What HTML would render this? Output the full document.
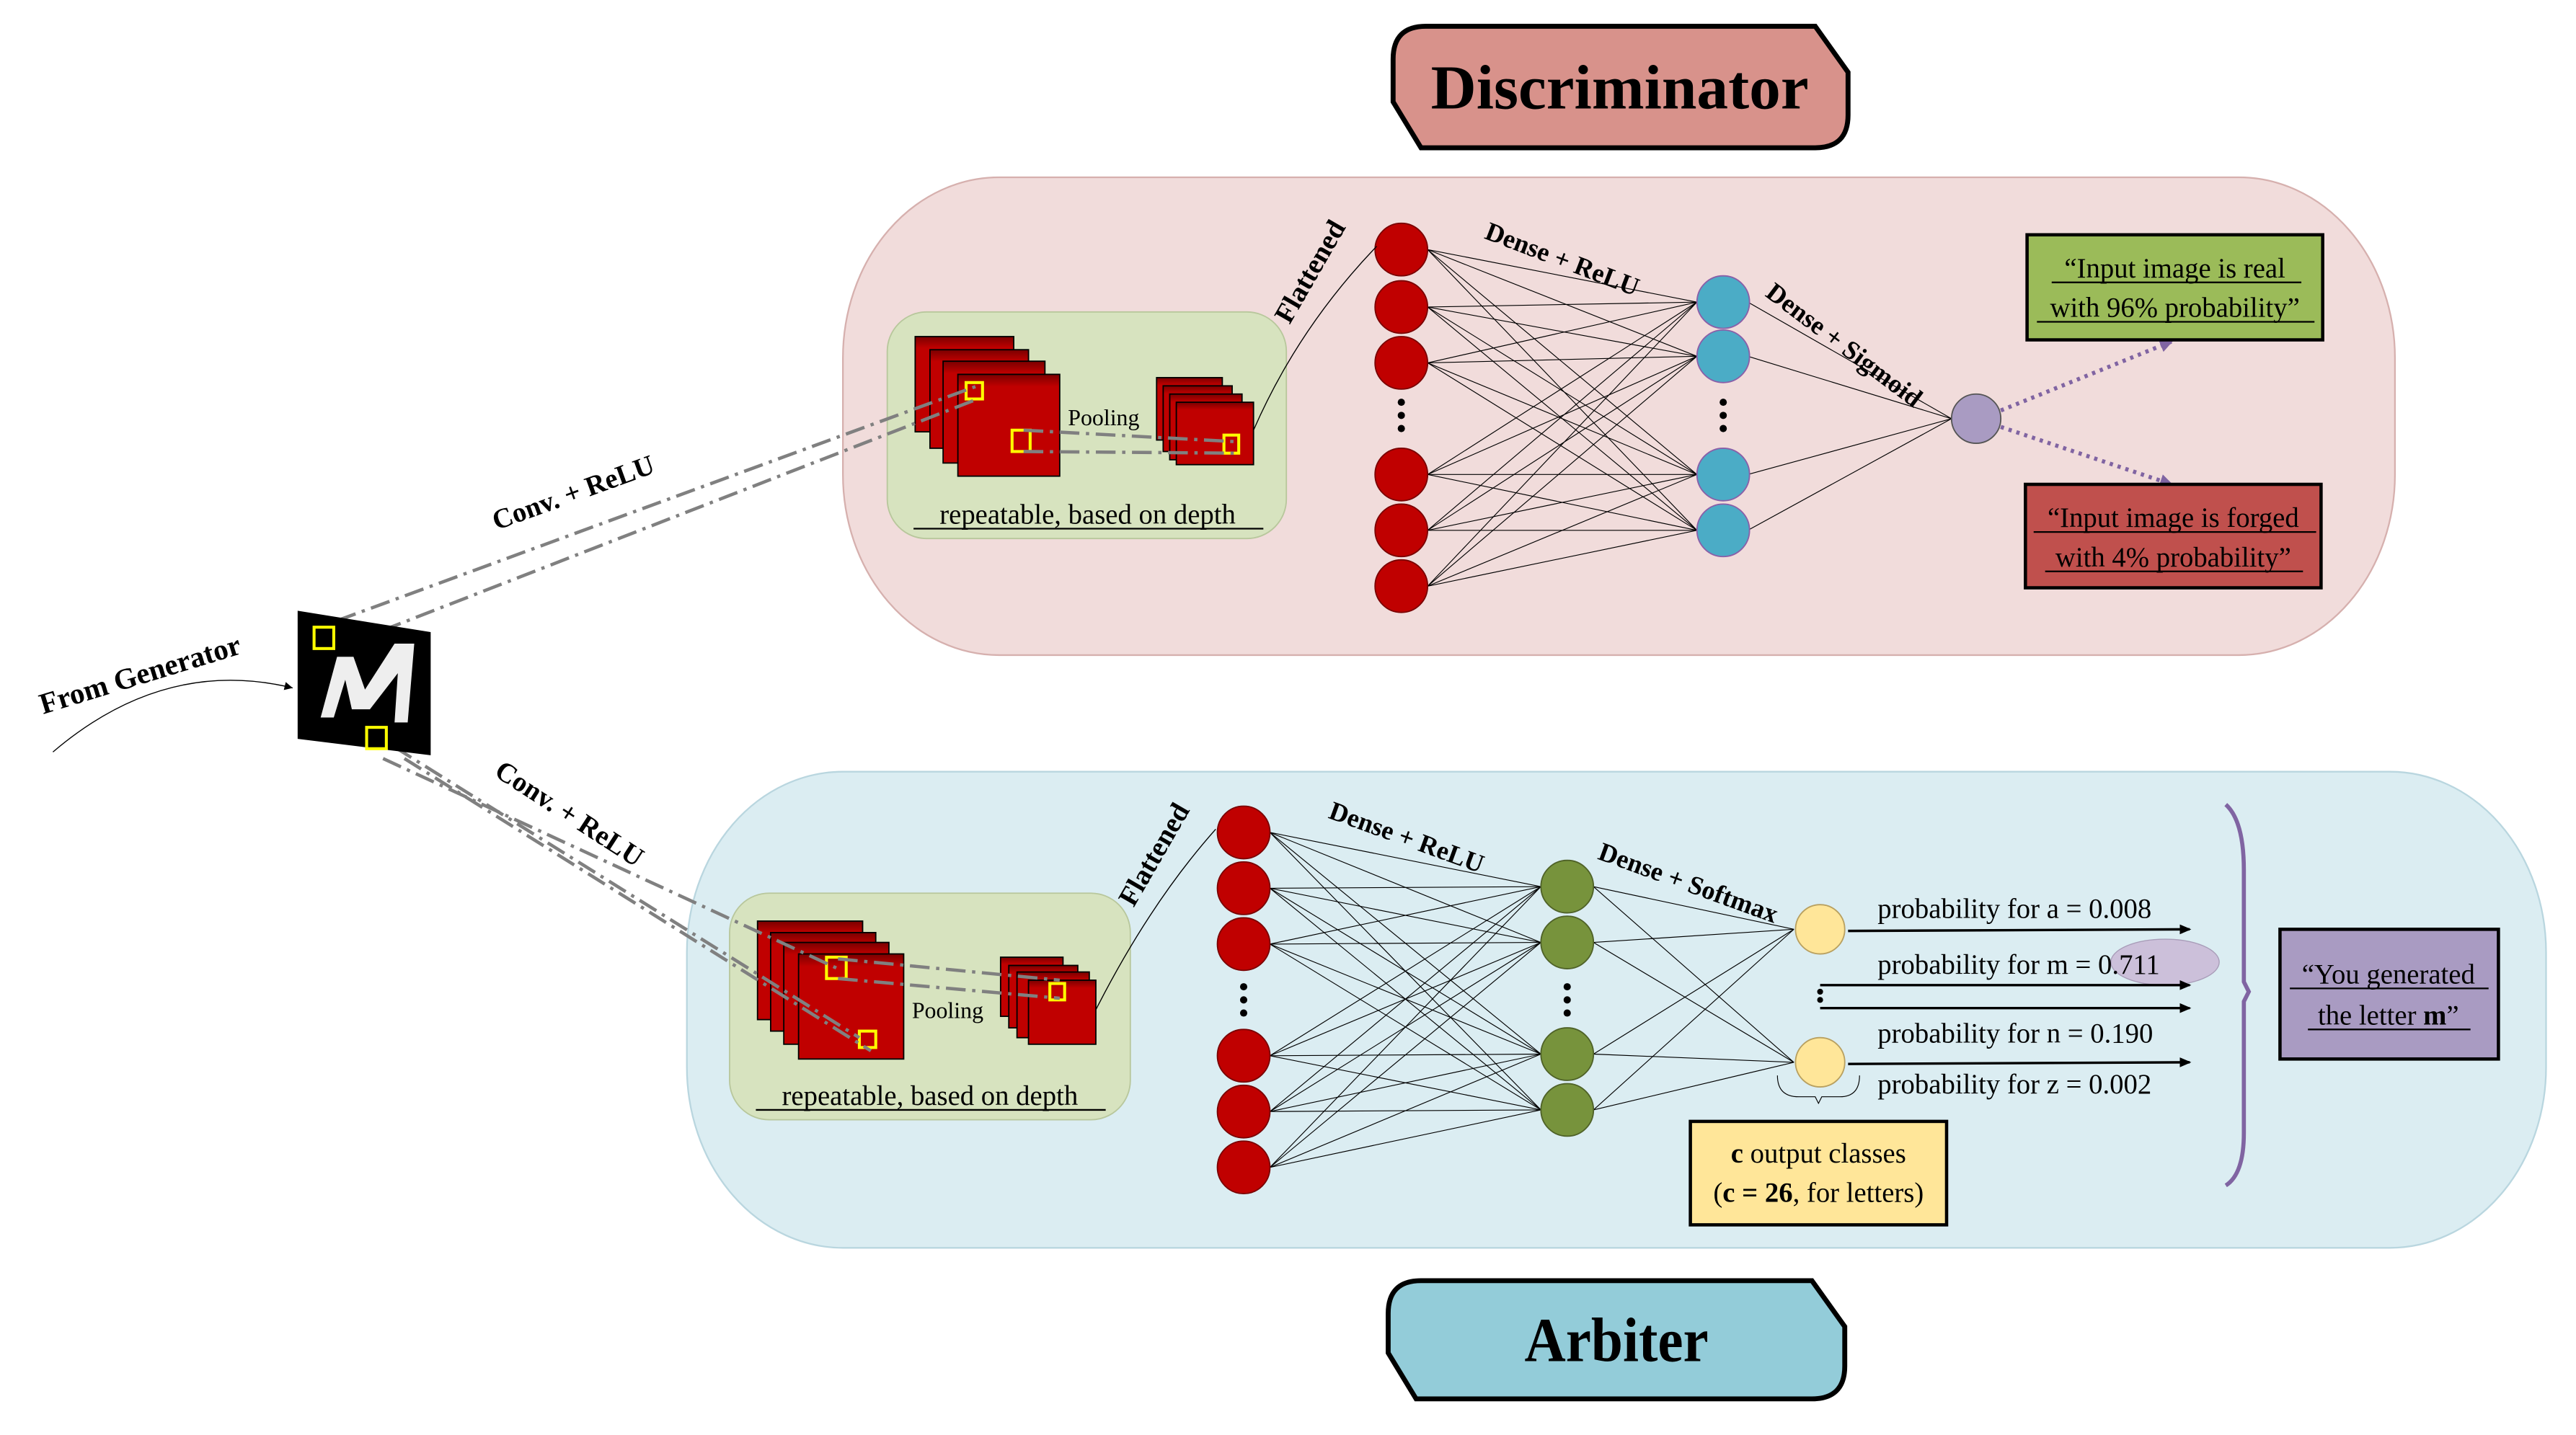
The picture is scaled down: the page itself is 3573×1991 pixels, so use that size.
<!DOCTYPE html>
<html><head><meta charset="utf-8"><style>
html,body{margin:0;padding:0;background:#fff;}
svg{display:block;}
text{font-family:"Liberation Serif",serif;}
</style></head><body>
<svg id="s" width="3573" height="1991" viewBox="0 0 1568 874" xmlns="http://www.w3.org/2000/svg">
<defs>
<marker id="ah" markerWidth="8" markerHeight="8" refX="6" refY="3" orient="auto" markerUnits="userSpaceOnUse"><path d="M0,0 L7,3 L0,6 z" fill="#000"/></marker>
<marker id="ahs" markerWidth="6" markerHeight="6" refX="5" refY="2.5" orient="auto" markerUnits="userSpaceOnUse"><path d="M0,0 L5,2.5 L0,5 z" fill="#000"/></marker>
<marker id="ahp" markerWidth="10" markerHeight="10" refX="7" refY="4" orient="auto" markerUnits="userSpaceOnUse"><path d="M0,0 L8,4 L0,8 z" fill="#8064a2"/></marker>
<linearGradient id="rg" x1="0" y1="0" x2="0" y2="1"><stop offset="0" stop-color="#7a0000"/><stop offset="0.12" stop-color="#c00000"/><stop offset="1" stop-color="#c00000"/></linearGradient>
</defs>

<path d="M868,16 L1105,16 L1125,44 L1125,70 Q1125,90 1105,90 L865,90 L848,62 L848,36 Q848,16 868,16 Z" fill="#d8928b" stroke="#000" stroke-width="3"/>
<text x="986" y="66" font-size="38" font-weight="bold" text-anchor="middle" textLength="230" lengthAdjust="spacingAndGlyphs">Discriminator</text>
<path d="M865,780 L1103,780 L1123,808 L1123,832 Q1123,852 1103,852 L862,852 L845,824 L845,800 Q845,780 865,780 Z" fill="#93ccd9" stroke="#000" stroke-width="3"/>
<text x="984" y="829" font-size="38" font-weight="bold" text-anchor="middle" textLength="112" lengthAdjust="spacingAndGlyphs">Arbiter</text>

<rect x="513" y="108" width="945" height="291" rx="95" ry="110" fill="#f1dcdb" stroke="#d6b0ae" stroke-width="1"/>
<rect x="418" y="470" width="1132" height="290" rx="95" ry="110" fill="#dbedf2" stroke="#b9d6df" stroke-width="1"/>

<rect x="540" y="190" width="243" height="138" rx="24" fill="#d7e3bf" stroke="#b8c79c" stroke-width="0.8"/>
<rect x="444" y="544" width="244" height="138" rx="24" fill="#d7e3bf" stroke="#b8c79c" stroke-width="0.8"/>

<g id="net"></g>

<g stroke="#000" stroke-width="0.8" fill="url(#rg)">
<rect x="557" y="205" width="60" height="58"/><rect x="566" y="213" width="60" height="60"/><rect x="574" y="220" width="62" height="62"/><rect x="583" y="228" width="62" height="62"/>
<rect x="704" y="230" width="40" height="38"/><rect x="708" y="235" width="42" height="40"/><rect x="712" y="240" width="44" height="40"/><rect x="716" y="245" width="47" height="38"/>
<rect x="461" y="561" width="64" height="60"/><rect x="469" y="568" width="64" height="60"/><rect x="477" y="574" width="64" height="62"/><rect x="486" y="581" width="64" height="64"/>
<rect x="609" y="583" width="38" height="36"/><rect x="614" y="588" width="42" height="38"/><rect x="619" y="592" width="44" height="40"/><rect x="626" y="597" width="41" height="39"/>
</g>
<g fill="none" stroke="#ffff00" stroke-width="1.8">
<rect x="588" y="233" width="10" height="10"/><rect x="616" y="262" width="11" height="13"/><rect x="745" y="265" width="9" height="11"/>
<rect x="503" y="583" width="12" height="13"/><rect x="523" y="628" width="10" height="10"/><rect x="639" y="599" width="9" height="10"/>
</g>
<g fill="none" stroke="#808080" stroke-width="2" stroke-dasharray="12,4,2,4">
<line x1="623" y1="262" x2="752" y2="269"/><line x1="623" y1="275" x2="752" y2="276"/>
<line x1="510" y1="584" x2="645" y2="597"/><line x1="510" y1="596" x2="645" y2="608"/>
<line x1="205" y1="378" x2="595" y2="235"/><line x1="212" y1="392" x2="595" y2="243"/>
<line x1="240" y1="455" x2="523" y2="632"/><line x1="233" y1="462" x2="510" y2="590"/><line x1="246" y1="462" x2="530" y2="640"/>
</g>
<text x="650" y="259" font-size="14">Pooling</text>
<text x="555" y="620" font-size="14">Pooling</text>
<text x="662" y="319" font-size="17" text-anchor="middle">repeatable, based on depth</text>
<line x1="556" y1="322" x2="769" y2="322" stroke="#000" stroke-width="1"/>
<text x="566" y="673" font-size="17" text-anchor="middle">repeatable, based on depth</text>
<line x1="460" y1="676" x2="673" y2="676" stroke="#000" stroke-width="1"/>

<path d="M763,262 Q790,200 838,150" fill="none" stroke="#000" stroke-width="0.6"/>
<path d="M667,615 Q700,550 740,505" fill="none" stroke="#000" stroke-width="0.6"/>
<text font-size="17" font-weight="bold" transform="translate(785,198) rotate(-60)">Flattened</text>
<text font-size="17" font-weight="bold" transform="translate(690,553) rotate(-60)">Flattened</text>

<text font-size="16" font-weight="bold" transform="translate(903,145) rotate(21)">Dense + ReLU</text>
<text font-size="16" font-weight="bold" transform="translate(1074,180) rotate(37)">Dense + Sigmoid</text>
<text font-size="16" font-weight="bold" transform="translate(808,498) rotate(20)">Dense + ReLU</text>
<text font-size="16" font-weight="bold" transform="translate(972,523) rotate(20)">Dense + Softmax</text>

<path d="M1218,250 L1322,208" stroke="#8064a2" stroke-width="2.5" stroke-dasharray="2,3" fill="none" marker-end="url(#ahp)"/>
<path d="M1218,260 L1322,295" stroke="#8064a2" stroke-width="2.5" stroke-dasharray="2,3" fill="none" marker-end="url(#ahp)"/>
<rect x="1234" y="143" width="180" height="64" fill="#9bbb59" stroke="#000" stroke-width="2"/>
<text x="1324" y="169" font-size="17" text-anchor="middle">“Input image is real</text>
<line x1="1249" y1="172" x2="1401" y2="172" stroke="#000"/>
<text x="1324" y="193" font-size="17" text-anchor="middle">with 96% probability”</text>
<line x1="1240" y1="196" x2="1409" y2="196" stroke="#000"/>
<rect x="1233" y="295" width="180" height="63" fill="#c0504d" stroke="#000" stroke-width="2"/>
<text x="1323" y="321" font-size="17" text-anchor="middle">“Input image is forged</text>
<line x1="1238" y1="324" x2="1410" y2="324" stroke="#000"/>
<text x="1323" y="345" font-size="17" text-anchor="middle">with 4% probability”</text>
<line x1="1245" y1="348" x2="1402" y2="348" stroke="#000"/>

<ellipse cx="1318" cy="586" rx="33" ry="14" fill="#ccc0da" stroke="#a89cb8" stroke-width="0.6"/>
<g stroke="#000" stroke-width="1.5" marker-end="url(#ah)">
<line x1="1125" y1="567" x2="1333" y2="566"/><line x1="1108" y1="600" x2="1333" y2="600"/><line x1="1108" y1="614" x2="1333" y2="614"/><line x1="1125" y1="648" x2="1333" y2="647"/>
</g>
<circle cx="1108" cy="604" r="1.8"/><circle cx="1108" cy="609" r="1.8"/>
<g font-size="17">
<text x="1143" y="559">probability for a = 0.008</text>
<text x="1143" y="593">probability for m = 0.711</text>
<text x="1143" y="635">probability for n = 0.190</text>
<text x="1143" y="666">probability for z = 0.002</text>
</g>
<path d="M1082,655 Q1082,668 1095,668 L1105,668 L1107,672 L1109,668 L1120,668 Q1132,668 1132,655" fill="none" stroke="#000" stroke-width="0.5"/>
<rect x="1029" y="683" width="156" height="63" fill="#ffe699" stroke="#000" stroke-width="2"/>
<text x="1107" y="708" font-size="17" text-anchor="middle"><tspan font-weight="bold">c</tspan> output classes</text>
<text x="1107" y="732" font-size="17" text-anchor="middle">(<tspan font-weight="bold">c = 26</tspan>, for letters)</text>
<path d="M1355,490 Q1366,500 1366,530 L1366,598 L1369,604 L1366,610 L1366,690 Q1366,715 1355,722" fill="none" stroke="#8064a2" stroke-width="2.5"/>
<rect x="1388" y="566" width="133" height="79" fill="#a99bc2" stroke="#000" stroke-width="2"/>
<text x="1454" y="599" font-size="17" text-anchor="middle">“You generated</text>
<line x1="1394" y1="602" x2="1515" y2="602" stroke="#000"/>
<text x="1454" y="624" font-size="17" text-anchor="middle">the letter <tspan font-weight="bold">m</tspan>”</text>
<line x1="1405" y1="627" x2="1504" y2="627" stroke="#000"/>

<path d="M181,372 L262,385 L262,460 L181,450 Z" fill="#000"/>
<path d="M195,437 L205,400 L215,400 L222,420 L240,392 L252,392 L248,440 L240,440 L242,410 L225,432 L214,432 L210,414 L203,437 Z" fill="#eee"/>
<rect x="191" y="382" width="12" height="13" fill="none" stroke="#ffff00" stroke-width="1.8"/>
<rect x="223" y="443" width="12" height="13" fill="none" stroke="#ffff00" stroke-width="1.8"/>
<text font-size="18" font-weight="bold" transform="translate(26,435) rotate(-17)">From Generator</text>
<path d="M32,458 Q100,400 178,419" fill="none" stroke="#000" stroke-width="0.6" marker-end="url(#ahs)"/>
<text font-size="17" font-weight="bold" transform="translate(302,323) rotate(-20)">Conv. + ReLU</text>
<text font-size="17" font-weight="bold" transform="translate(300,472) rotate(33)">Conv. + ReLU</text>
</svg>
<script>
var NS="http://www.w3.org/2000/svg",g=document.getElementById("net");
function el(t,a){var e=document.createElementNS(NS,t);for(var k in a)e.setAttribute(k,a[k]);g.appendChild(e);return e;}
function conn(A,ax,B,bx,r){A.forEach(function(y1){B.forEach(function(y2){el("line",{x1:ax+r,y1:y1,x2:bx-r,y2:y2,stroke:"#000","stroke-width":"0.5"});});});}
function nodes(x,Y,f,s,rx,ry){Y.forEach(function(y){el("ellipse",{cx:x,cy:y,rx:rx,ry:ry,fill:f,stroke:s,"stroke-width":"0.8"});});}
function dots(x,y){[0,8,16].forEach(function(d){el("circle",{cx:x,cy:y+d,r:2.2,fill:"#000"});});}
var R1=[152,187,221,289,323,357],B1=[184,217,289,323];
conn(R1,853,B1,1049,16);conn(B1,1049,[255],1203,15);
nodes(853,R1,"#c00000","#7a0000",16,16);nodes(1049,B1,"#4bacc6","#8a5fa8",16,16);
nodes(1203,[255],"#a99bc2","#555",15,15);dots(853,245);dots(1049,245);
var R2=[507,541,575,643,677,711],G2=[540,574,642,676],Y2=[566,647];
conn(R2,757,G2,954,16);conn(G2,954,Y2,1108,16);
nodes(757,R2,"#c00000","#7a0000",16,16);nodes(954,G2,"#77933c","#4f6228",16,16);
nodes(1108,Y2,"#ffe699","#b8a060",15,15);dots(757,601);dots(954,601);
</script>
</body></html>
